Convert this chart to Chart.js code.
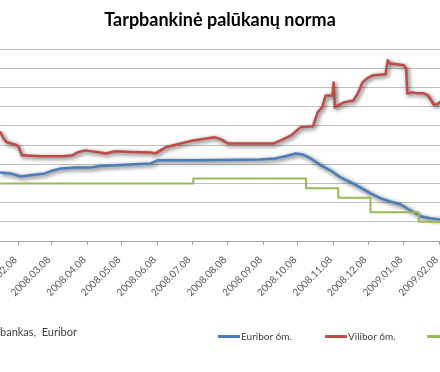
<!DOCTYPE html>
<html lang="lt">
<head>
<meta charset="utf-8">
<title>Tarpbankinė palūkanų norma</title>
<script src="https://cdn.jsdelivr.net/npm/chart.js@4.4.1/dist/chart.umd.min.js"></script>
<style>
  html, body { margin: 0; padding: 0; background: #fff; }
  #wrap { position: relative; width: 440px; height: 372px; overflow: hidden; font-family: Lato, "Open Sans", sans-serif; }
  #rates { position: absolute; left: 0; top: 0; }
  #source { position: absolute; left: 0; top: 325px; font-size: 11px; color: #404040; white-space: pre; }
  .item { position: absolute; top: 330px; display: flex; align-items: center; font-size: 10px; color: #404040; white-space: nowrap; }
  .item i { display: inline-block; width: 22px; height: 3px; margin-right: 1px; }
</style>
</head>
<body>
<div id="wrap">
  <canvas id="rates" width="440" height="372"></canvas>
  <div id="source">bankas,  Euribor</div>
  <div id="legend"></div>
</div>
<script>
const seriesNames = ['Euribor 6m.', 'Vilibor 6m.', 'ECB palūkanų norma'];

const tickLabels = ['2008.02.08', '2008.03.08', '2008.04.08', '2008.05.08', '2008.06.08', '2008.07.08',
  '2008.08.08', '2008.09.08', '2008.10.08', '2008.11.08', '2008.12.08', '2009.01.08', '2009.02.08'];

const euriborDates = ['2008-01-23', '2008-02-01', '2008-02-10', '2008-02-18', '2008-03-02', '2008-03-09',
  '2008-03-16', '2008-03-29', '2008-04-11', '2008-04-19', '2008-05-15', '2008-06-02', '2008-06-08',
  '2008-07-15', '2008-09-05', '2008-09-18', '2008-09-27', '2008-10-06', '2008-10-12', '2008-10-19',
  '2008-10-28', '2008-11-05', '2008-11-14', '2008-11-23', '2008-12-01', '2008-12-10', '2008-12-19',
  '2008-12-27', '2009-01-05', '2009-01-14', '2009-01-23', '2009-01-31', '2009-02-09'];
const euribor = [4.57, 4.52, 4.36, 4.42, 4.52, 4.68, 4.78, 4.83, 4.83, 4.91, 4.99, 5.04, 5.20,
  5.20, 5.25, 5.30, 5.41, 5.56, 5.51, 5.30, 4.94, 4.68, 4.31, 4.05, 3.79, 3.48, 3.22,
  3.06, 2.91, 2.59, 2.28, 2.18, 2.12];

const viliborDates = ['2008-01-23', '2008-01-26', '2008-01-29', '2008-02-05', '2008-02-08', '2008-02-11',
  '2008-02-27', '2008-03-18', '2008-03-26', '2008-03-30', '2008-04-06', '2008-04-19', '2008-04-24',
  '2008-05-02', '2008-05-15', '2008-06-02', '2008-06-06', '2008-06-15', '2008-06-28', '2008-07-09',
  '2008-07-20', '2008-07-28', '2008-08-02', '2008-08-08', '2008-08-28', '2008-09-17', '2008-09-23',
  '2008-10-02', '2008-10-04', '2008-10-10', '2008-10-21', '2008-10-25', '2008-10-29', '2008-11-01',
  '2008-11-07', '2008-11-08', '2008-11-09', '2008-11-12', '2008-11-17', '2008-11-25', '2008-11-29',
  '2008-12-03', '2008-12-07', '2008-12-12', '2008-12-23', '2008-12-25', '2008-12-27', '2009-01-02',
  '2009-01-08', '2009-01-10', '2009-01-11', '2009-01-16', '2009-01-20', '2009-01-25', '2009-01-29',
  '2009-02-03', '2009-02-06', '2009-02-09'];
const vilibor = [6.71, 6.34, 6.14, 6.03, 5.93, 5.46, 5.41, 5.41, 5.46, 5.61, 5.72, 5.61, 5.56,
  5.67, 5.64, 5.61, 5.56, 5.88, 6.08, 6.24, 6.34, 6.40, 6.29, 6.08, 6.08, 6.08, 6.24,
  6.50, 6.60, 6.92, 6.97, 7.70, 7.96, 8.58, 8.58, 9.26, 7.96, 8.06, 8.22, 8.32, 8.69,
  9.26, 9.47, 9.63, 9.68, 10.41, 10.25, 10.20, 10.15, 9.99, 8.69, 8.74, 8.69, 8.69, 8.58,
  8.11, 8.11, 8.27];

const ecbDates = ['2008-01-23', '2008-07-09', '2008-10-15', '2008-11-12', '2008-12-10', '2009-01-21', '2009-02-09'];
const ecb = [4.00, 4.25, 3.75, 3.25, 2.50, 2.00, 2.00];

const toTime = s => Date.parse(s.replace(/\./g, '-') + 'T00:00:00Z');
const points = (dates, values) => dates.map((d, i) => ({ x: toTime(d), y: values[i] }));

// soft grey shadow under the two interbank lines, like the spreadsheet effect
const lineShadow = {
  id: 'lineShadow',
  beforeDatasetDraw(chart, args, opts) {
    if (!opts.indexes.includes(args.index)) return;
    const ctx = chart.ctx;
    ctx.save();
    ctx.shadowColor = 'rgba(0,0,0,0.7)';
    ctx.shadowBlur = 4;
    ctx.shadowOffsetX = 1.5;
    ctx.shadowOffsetY = 1.5;
  },
  afterDatasetDraw(chart, args, opts) {
    if (opts.indexes.includes(args.index)) chart.ctx.restore();
  }
};

const colors = ['#4a7ebb', '#be4b48', '#98b954'];

const chart = new Chart(document.getElementById('rates'), {
  type: 'line',
  data: {
    datasets: [
      { label: seriesNames[0], data: points(euriborDates, euribor), borderColor: colors[0], borderWidth: 2.5, order: 1 },
      { label: seriesNames[1], data: points(viliborDates, vilibor), borderColor: colors[1], borderWidth: 2.5, order: 2 },
      { label: seriesNames[2], data: points(ecbDates, ecb), borderColor: colors[2], borderWidth: 2, stepped: true, order: 0 },
    ],
  },
  options: {
    responsive: false,
    animation: false,
    devicePixelRatio: 1,
    elements: { point: { radius: 0 }, line: { tension: 0, borderJoinStyle: 'round' } },
    layout: { padding: 0 },
    plugins: {
      legend: { display: false },
      tooltip: { enabled: false },
      lineShadow: { indexes: [0, 1] },
      title: {
        display: true,
        text: 'Tarpbankinė palūkanų norma',
        color: '#000',
        font: { family: 'Lato', size: 18, weight: 'bold', lineHeight: 1.2 },
        padding: { top: 9, bottom: 18.4 },
      },
    },
    scales: {
      x: {
        type: 'linear',
        min: toTime('2008-01-23'),
        max: toTime('2009-02-08') + 10 * 3600 * 1000,
        afterBuildTicks: scale => { scale.ticks = tickLabels.map(l => ({ value: toTime(l) })); },
        afterFit: scale => { scale.paddingLeft = 0; scale.paddingRight = 0; scale.height = 131; },
        ticks: {
          autoSkip: false, minRotation: 45, maxRotation: 45, padding: 9, labelOffset: -3,
          callback: (v, i) => tickLabels[i],
          color: '#595959', font: { family: 'Lato', size: 10 },
        },
        grid: { drawOnChartArea: false, color: '#a6a6a6', tickLength: 4 },
        border: { color: '#a6a6a6' },
      },
      y: {
        min: 1, max: 11,
        ticks: { display: false, stepSize: 1 },
        grid: { color: '#c0c0c0', drawTicks: false },
        border: { display: false },
      },
    },
  },
  plugins: [lineShadow],
});

// legend drawn as html, the wider original chart cut it at the right edge
const legendLeft = [218, 325, 427];
const legend = document.getElementById('legend');
chart.data.datasets.forEach((ds, i) => {
  const item = document.createElement('div');
  item.className = 'item';
  item.style.left = legendLeft[i] + 'px';
  item.innerHTML = '<i style="background:' + ds.borderColor + '"></i>' + ds.label;
  legend.appendChild(item);
});
</script>
</body>
</html>
